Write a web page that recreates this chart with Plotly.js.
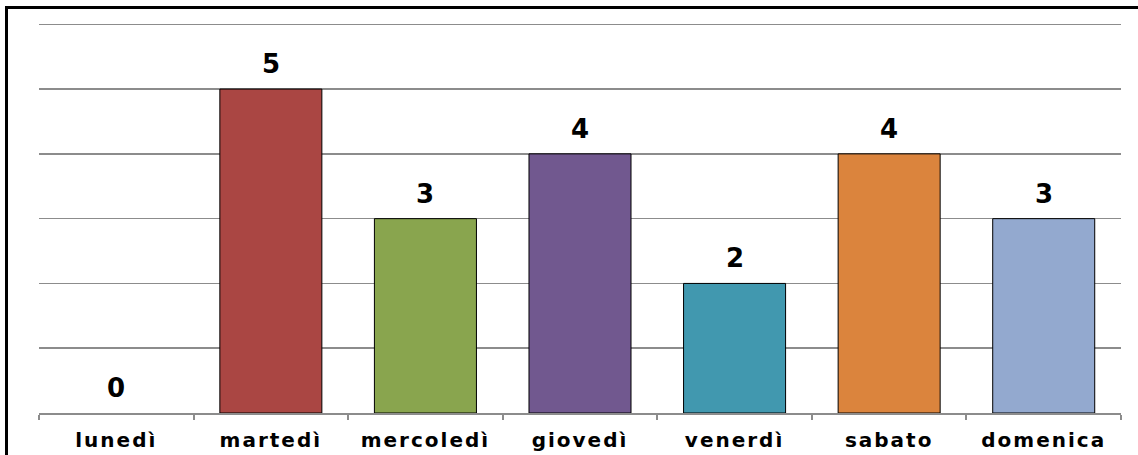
<!DOCTYPE html>
<html>
<head>
<meta charset="utf-8">
<script src="https://cdn.plot.ly/plotly-3.0.1.min.js"></script>
<style>
html,body{margin:0;padding:0;background:#fff;}
#wrap{position:relative;width:1138px;height:455px;}
#chart{position:absolute;left:0;top:0;width:1138px;height:455px;}
#frame{position:absolute;left:5px;top:6px;width:1140px;height:460px;border-left:3px solid #000;border-top:3px solid #000;pointer-events:none;}
#chart .xtick text{letter-spacing:2px;}
</style>
</head>
<body>
<div id="wrap"><div id="chart"></div><div id="frame"></div></div>
<script>
const days = ["lunedì","martedì","mercoledì","giovedì","venerdì","sabato","domenica"];
const counts = [0,5,3,4,2,4,3];
const barColors = ["#4572A7","#AA4643","#89A54E","#71588F","#4198AF","#DB843D","#93A9CF"];

const trace = {
  type: "bar",
  x: days,
  y: counts,
  marker: {color: barColors, line: {color: "#000", width: counts.map(v => v > 0 ? 1 : 0)}},
  hoverinfo: "skip"
};

const annotations = days.map((d, i) => ({
  x: d, y: counts[i], xref: "x", yref: "y",
  text: String(counts[i]), showarrow: false,
  yanchor: "bottom", yshift: 8,
  font: {family: "DejaVu Sans", size: 26, color: "#000", weight: "bold"}
}));

const layout = {
  width: 1138, height: 455,
  margin: {l: 39, r: 17, t: 23, b: 42},
  paper_bgcolor: "#fff", plot_bgcolor: "#fff",
  showlegend: false,
  bargap: 0.34,
  annotations: annotations,
  xaxis: {
    type: "category",
    showline: true, linecolor: "#8c8c8c", linewidth: 2,
    ticks: "outside", tickson: "boundaries", ticklen: 5, tickcolor: "#8c8c8c", tickwidth: 2,
    tickfont: {family: "DejaVu Sans", size: 20, color: "#000", weight: "bold"},
    ticklabelstandoff: 8,
    showgrid: false, fixedrange: true
  },
  yaxis: {
    range: [0, 6.02], tickvals: [1,2,3,4,5,6],
    showticklabels: false, showline: false, zeroline: false,
    showgrid: true, gridcolor: "#8c8c8c", gridwidth: 1.5,
    fixedrange: true
  }
};

Plotly.newPlot("chart", [trace], layout, {displayModeBar: false, staticPlot: true});
</script>
</body>
</html>
